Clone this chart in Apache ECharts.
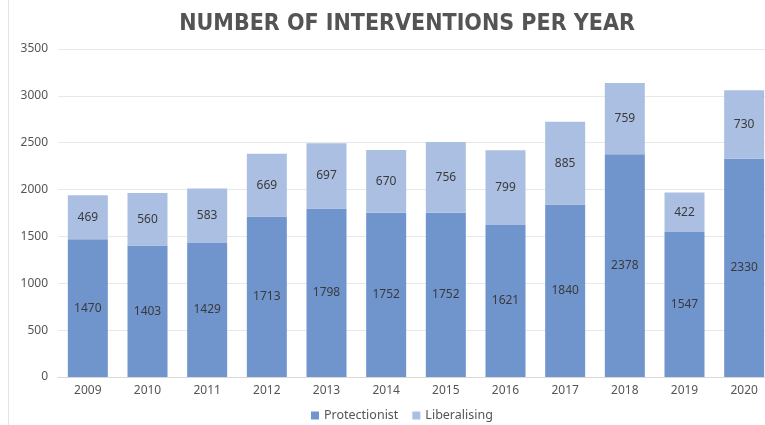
<!DOCTYPE html>
<html style="height: 100%">

<head>
    <meta charset="utf-8">
</head>

<body style="height: 100%; margin: 0; background: #fff; overflow: hidden">
<div id="container" style="width: 775px; height: 425px"></div>
<script type="text/javascript" src="https://cdn.jsdelivr.net/npm/echarts@6/dist/echarts.min.js"></script>
<script type="text/javascript">
    var years = ['2009', '2010', '2011', '2012', '2013', '2014', '2015', '2016', '2017', '2018', '2019', '2020'];
    var protectionist = [1470, 1403, 1429, 1713, 1798, 1752, 1752, 1621, 1840, 2378, 1547, 2330];
    var liberalising = [469, 560, 583, 669, 697, 670, 756, 799, 885, 759, 422, 730];

    // the source image is cropped on the right, so the chart is a bit wider than the window
    var dom = document.getElementById("container");
    var myChart = echarts.init(dom);

    var labelStyle = {
        show: true,
        position: 'inside',
        color: '#3a3a3a',
        fontSize: 12,
        fontFamily: 'Noto Sans'
    };

    var option = {
        backgroundColor: '#fff',
        animation: false,
        title: {
            text: 'NUMBER OF INTERVENTIONS PER YEAR',
            left: 402,
            textAlign: 'center',
            top: 8,
            textStyle: {
                fontFamily: 'DejaVu Sans Condensed',
                fontWeight: 'bold',
                fontSize: 23,
                color: '#545454'
            }
        },
        graphic: [{
            type: 'line',
            shape: { x1: 8.5, y1: 0, x2: 8.5, y2: 425 },
            style: { stroke: '#e4e4e4', lineWidth: 1 }
        }],
        legend: {
            bottom: -2,
            left: 306,
            itemWidth: 8,
            itemHeight: 8,
            itemGap: 14,
            icon: 'rect',
            textStyle: { color: '#555', fontSize: 12.5, fontFamily: 'Noto Sans' },
            data: ['Protectionist', 'Liberalising']
        },
        grid: {
            left: 58,
            right: 1,
            top: 49,
            bottom: 48,
            containLabel: false
        },
        xAxis: {
            type: 'category',
            data: years,
            axisTick: { show: false },
            axisLine: { lineStyle: { color: '#d9d9d9' } },
            axisLabel: { color: '#555', fontSize: 12, fontFamily: 'Noto Sans', margin: 8 }
        },
        yAxis: {
            type: 'value',
            min: 0,
            max: 3500,
            interval: 500,
            axisLine: { show: false },
            axisTick: { show: false },
            splitLine: { lineStyle: { color: '#e8e8e8' } },
            axisLabel: {
                color: '#555', fontSize: 12, fontFamily: 'Noto Sans', margin: 10,
                formatter: function (v) { return String(v); }
            }
        },
        series: [{
            name: 'Protectionist',
            type: 'bar',
            stack: 'total',
            barWidth: 40,
            data: protectionist,
            itemStyle: { color: '#7095cc' },
            label: labelStyle
        }, {
            name: 'Liberalising',
            type: 'bar',
            stack: 'total',
            barWidth: 40,
            data: liberalising,
            itemStyle: { color: '#abbfe2' },
            label: labelStyle
        }]
    };
    myChart.setOption(option, true);
</script>
</body>

</html>
